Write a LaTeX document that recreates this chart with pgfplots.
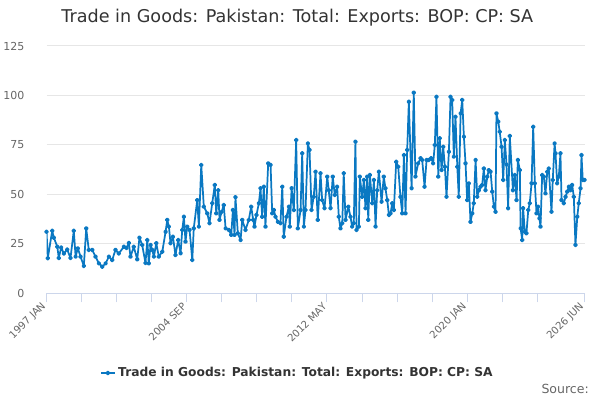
\documentclass[border=0pt]{standalone}
\usepackage{pgfplots}
\pgfplotsset{compat=1.18}
\usepackage{fontspec}
\setmainfont{DejaVu Sans}
\definecolor{series}{RGB}{10,120,194}
\definecolor{axisc}{HTML}{CCD6EB}
\definecolor{gridc}{HTML}{E6E6E6}
\definecolor{labc}{HTML}{666666}
\definecolor{titc}{HTML}{333333}
\begin{document}
\begin{tikzpicture}
\path[use as bounding box] (0,0) rectangle (450pt,300pt);
\node[font=\fontsize{13.2}{15}\selectfont, text=titc] at (223pt,286.5pt) {Trade in Goods: Pakistan: Total: Exports: BOP: CP: SA};
\node[font=\fontsize{9.4}{10}\selectfont, text=labc, anchor=east, inner sep=0pt] at (441.8pt,8.25pt) {Source:};
\begin{axis}[
  at={(34.9pt,80.25pt)}, anchor=south west,
  scale only axis, width=403.5pt, height=185.25pt,
  xmin=1997, xmax=2026.4167, ymin=0, ymax=125,
  axis x line*=bottom, axis y line*=left,
  x axis line style={draw=axisc, line width=0.75pt, -},
  y axis line style={draw=none},
  ytick={0,25,50,75,100,125},
  ymajorgrids, grid style={draw=gridc, line width=0.75pt},
  ytick style={draw=none},
  yticklabel style={font=\fontsize{8.25}{10}\selectfont, text=labc, xshift=-6pt},
  xtick={1997,1998.9167,2000.8333,2002.75,2004.6667,2006.5833,2008.5,2010.4167,2012.3333,2014.25,2016.1667,2018.0833,2020,2021.9167,2023.8333,2026.4167},
  xticklabels={1997 JAN,,,,2004 SEP,,,,2012 MAY,,,,2020 JAN,,,2026 JUN},
  xtick style={draw=axisc, line width=0.75pt},
  tick align=outside, major tick length=7pt,
  xticklabel style={font=\fontsize{7.6}{9}\selectfont, text=labc, rotate=45, anchor=east, xshift=1pt, yshift=0pt},
  /pgf/number format/assume math mode=true,
  legend style={at={(0.467,-0.324)}, anchor=center, draw=none, fill=none,
    font=\bfseries\fontsize{9.2}{10}\selectfont, text=titc},
  legend image code/.code={\draw[#1, mark repeat=2, mark phase=2] plot coordinates {(0cm,0cm) (0.18cm,0cm) (0.36cm,0cm)};},
]
\addplot[color=series, line width=1.3pt, mark=*, mark size=1.1pt, line join=round] table {
x y
1997.00 31
1997.07 17.6
1997.31 31.5
1997.40 28
1997.59 23.4
1997.67 17.7
1997.80 23
1997.95 20
1998.13 22
1998.31 17.7
1998.49 31.5
1998.59 18.4
1998.71 22.6
1998.86 18.4
1999.04 13.7
1999.17 32.7
1999.31 21.8
1999.50 21.8
1999.68 18.4
1999.86 15
2000.05 13.3
2000.23 15
2000.41 18.4
2000.59 16.7
2000.77 21.8
2000.95 20
2001.23 23.4
2001.37 22.8
2001.50 25.3
2001.59 18.4
2001.77 23.4
2001.96 17
2002.08 28
2002.23 24.3
2002.41 15.2
2002.51 26.8
2002.59 15
2002.69 24.3
2002.78 21.8
2002.87 18.4
2003.00 25.2
2003.14 18.4
2003.33 20.9
2003.51 31
2003.60 37
2003.69 33.6
2003.78 25.2
2003.91 28.5
2004.05 19.2
2004.20 26.8
2004.33 20.1
2004.42 31.9
2004.51 38.6
2004.60 26
2004.69 33.6
2004.82 31.9
2004.97 16.7
2005.05 32.7
2005.24 47
2005.33 33.6
2005.46 64.8
2005.60 43.7
2005.79 40.3
2005.91 35.3
2006.06 45.4
2006.20 54.7
2006.28 40.3
2006.39 52
2006.46 37
2006.57 41
2006.69 44.5
2006.79 32.7
2006.97 31.9
2007.10 29.4
2007.19 42
2007.28 29.4
2007.33 48.5
2007.46 30.2
2007.61 26.8
2007.70 37
2007.88 31.9
2008.06 37
2008.19 43.7
2008.30 37
2008.37 33.6
2008.48 39.5
2008.61 45.4
2008.70 53
2008.79 38.6
2008.88 53.8
2008.97 33.6
2009.12 65.6
2009.25 64.8
2009.34 40.3
2009.43 42
2009.52 38.6
2009.65 36
2009.79 35.3
2009.89 53.8
2009.97 28.5
2010.12 38.6
2010.25 43.7
2010.30 33.6
2010.40 53
2010.52 42
2010.65 77.4
2010.74 32.7
2010.89 42
2010.98 70.7
2011.07 33.6
2011.16 42
2011.29 75.7
2011.38 72.4
2011.49 42
2011.61 48.7
2011.71 61.4
2011.83 37
2011.98 60.6
2012.07 47
2012.20 42.9
2012.35 58.9
2012.43 52
2012.53 42.9
2012.65 58.9
2012.76 49.6
2012.89 53.8
2012.98 38.6
2013.07 32.7
2013.17 35.3
2013.25 60.6
2013.35 37
2013.50 43.7
2013.62 38.6
2013.71 33.6
2013.80 35.3
2013.89 76.6
2013.95 31.9
2014.08 33.6
2014.13 58.9
2014.26 48.7
2014.35 57.2
2014.44 42.9
2014.53 58.9
2014.59 37
2014.68 59.7
2014.81 45.4
2014.90 57.2
2014.99 33.6
2015.08 52
2015.17 61.4
2015.32 46.2
2015.44 58.9
2015.53 53
2015.63 47
2015.72 39.5
2015.81 40.3
2015.90 45.4
2015.99 42
2016.12 66.4
2016.23 63.9
2016.35 48.7
2016.45 40.3
2016.54 69.8
2016.63 40.3
2016.72 72.4
2016.81 96.8
2016.96 53
2017.08 101.4
2017.17 58.9
2017.32 65.6
2017.45 68.2
2017.54 67.3
2017.67 53.8
2017.78 67.3
2017.90 67.3
2018.03 68.2
2018.14 65.6
2018.23 74.9
2018.32 99.3
2018.42 58.9
2018.50 78.3
2018.60 62.2
2018.69 74
2018.78 63.9
2018.87 48.7
2019.00 71.5
2019.09 99.3
2019.18 97.7
2019.27 69
2019.36 89.2
2019.46 63.9
2019.54 48.7
2019.64 90.9
2019.73 97.7
2019.82 79.1
2019.91 65.6
2020.00 47
2020.09 55.5
2020.18 36
2020.28 40.3
2020.36 45.4
2020.46 67.3
2020.55 48.7
2020.64 52
2020.73 53.8
2020.82 54.7
2020.91 63
2021.00 52
2021.10 58.9
2021.18 62.2
2021.28 61.4
2021.37 51.3
2021.46 43.7
2021.55 41.1
2021.60 90.9
2021.70 86.7
2021.78 81.6
2021.88 74
2021.97 57.2
2022.06 77.4
2022.15 65
2022.24 42.9
2022.33 79.5
2022.50 52
2022.60 59.7
2022.70 47
2022.77 67.3
2022.88 62.2
2022.92 32.7
2023.01 26.8
2023.06 42.9
2023.15 31
2023.24 30.2
2023.34 42
2023.42 45.4
2023.52 55.5
2023.61 84.1
2023.70 55.5
2023.79 40.3
2023.88 43.7
2023.95 37.8
2024.01 33.6
2024.10 59.7
2024.19 58.9
2024.28 50.4
2024.38 61.4
2024.46 63
2024.61 41.1
2024.68 57.2
2024.78 75.7
2024.83 70.7
2024.92 55.5
2025.01 58.9
2025.10 70.7
2025.16 47
2025.28 45.4
2025.38 48.7
2025.47 51.3
2025.56 53.8
2025.65 52
2025.74 54.7
2025.83 48.7
2025.92 24.3
2026.02 38.6
2026.10 45.4
2026.20 53
2026.25 69.8
2026.32 57.2
2026.4167 57.2
};
\addlegendentry{Trade in Goods: Pakistan: Total: Exports: BOP: CP: SA}
\end{axis}
\end{tikzpicture}
\end{document}
